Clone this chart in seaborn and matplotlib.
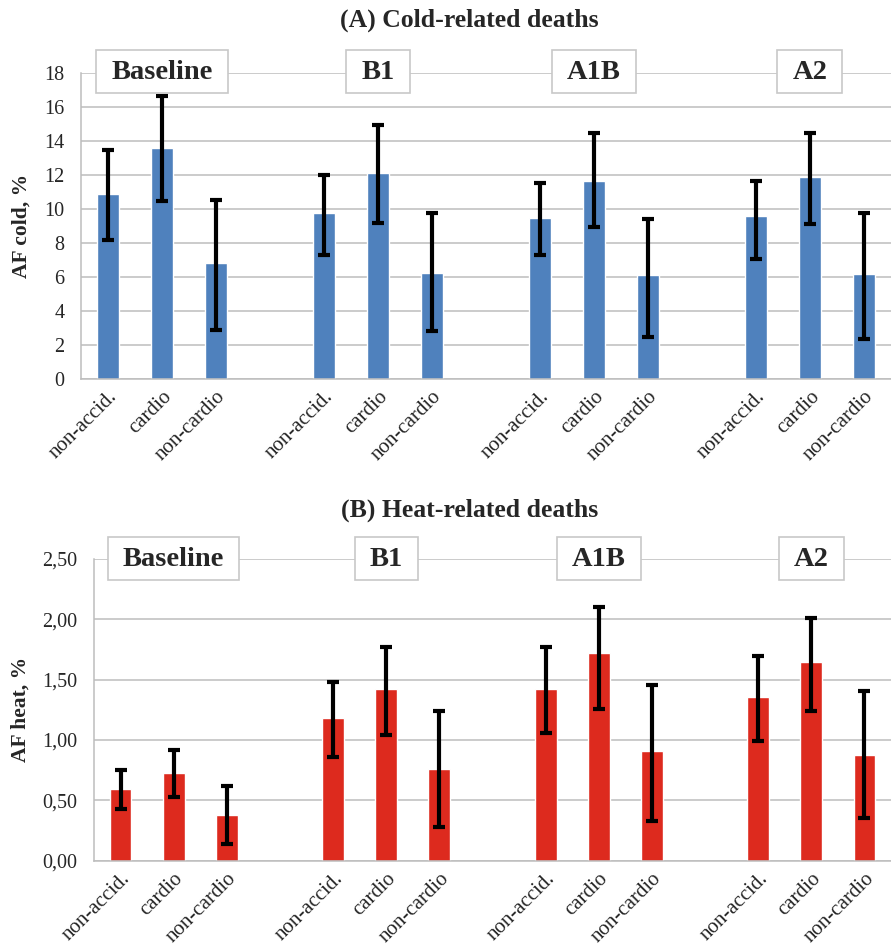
import numpy as np
import pandas as pd
import matplotlib
matplotlib.use("Agg")
import matplotlib.pyplot as plt
from matplotlib.patches import Rectangle
from matplotlib.transforms import IdentityTransform
import seaborn as sns

# Scenarios and causes of death
scenarios = ["Baseline", "B1", "A1B", "A2"]
causes = ["non-accid.", "cardio", "non-cardio"]

# Attributable fraction (%) of cold-related deaths with 95% CI
cold_af = [10.9, 13.6, 6.8,  9.75, 12.1, 6.25,  9.5, 11.65, 6.1,  9.6, 11.9, 6.15]
cold_lo = [8.2, 10.45, 2.9,  7.3, 9.15, 2.8,  7.3, 8.95, 2.45,  7.05, 9.1, 2.35]
cold_hi = [13.45, 16.65, 10.55,  12.0, 14.95, 9.75,  11.55, 14.45, 9.4,  11.65, 14.45, 9.75]

# Attributable fraction (%) of heat-related deaths with 95% CI
heat_af = [0.59, 0.73, 0.38,  1.18, 1.42, 0.76,  1.42, 1.72, 0.91,  1.36, 1.65, 0.88]
heat_lo = [0.43, 0.53, 0.14,  0.86, 1.04, 0.28,  1.06, 1.26, 0.33,  0.99, 1.24, 0.35]
heat_hi = [0.75, 0.92, 0.62,  1.48, 1.77, 1.24,  1.77, 2.10, 1.46,  1.70, 2.01, 1.41]

cold_ticks = [0, 2, 4, 6, 8, 10, 12, 14, 16, 18]
heat_ticks = [0.0, 0.5, 1.0, 1.5, 2.0, 2.5]

BLUE = "#4F81BD"
RED = "#DD2A1E"
GRID = "#BDBDBD"

sns.set_theme(style="white")
plt.rcParams["font.family"] = ["Liberation Serif", "DejaVu Serif"]

# Category order: three causes per scenario separated by an empty slot
keys, tick_labels = [], []
for i, s in enumerate(scenarios):
    for c in causes:
        keys.append(f"{s}|{c}")
        tick_labels.append(c)
    if i < len(scenarios) - 1:
        keys.append(" " * (i + 1))
        tick_labels.append("")

def make_frame(af, lo, hi):
    rows = []
    k = 0
    for s in scenarios:
        for c in causes:
            rows.append({"key": f"{s}|{c}", "scenario": s, "cause": c,
                         "af": af[k], "lo": lo[k], "hi": hi[k]})
            k += 1
    return pd.DataFrame(rows)

cold = make_frame(cold_af, cold_lo, cold_hi)
heat = make_frame(heat_af, heat_lo, heat_hi)

fig = plt.figure(figsize=(8.91, 9.48), dpi=100)
ax_top = fig.add_axes([0.0909, 0.6002, 0.9091, 0.3228])
ax_bot = fig.add_axes([0.1055, 0.0921, 0.8945, 0.3182])

scenario_texts = []

def draw_panel(ax, df, color, ticks, fmt, ylabel, label_x, title, title_y):
    sns.barplot(data=df, x="key", y="af", order=keys, color=color,
                width=0.41, errorbar=None, saturation=1, ax=ax, zorder=2)
    pos = np.array([keys.index(k) for k in df["key"]])
    yerr = np.vstack([df["af"] - df["lo"], df["hi"] - df["af"]])
    ax.errorbar(pos, df["af"], yerr=yerr, fmt="none", ecolor="black",
                elinewidth=3.0, capsize=4.5, capthick=3.0, zorder=3)
    ax.set_xlim(-0.5, len(keys) - 0.5)
    ax.set_ylim(ticks[0], ticks[-1])
    ax.set_yticks(ticks)
    ax.set_yticklabels([fmt(t) for t in ticks], fontsize=14.5)
    ax.set_xticks(range(len(keys)))
    ax.set_xticklabels(tick_labels, rotation=45, ha="right",
                       rotation_mode="anchor", fontsize=15)
    ax.tick_params(axis="x", length=0, pad=6)
    ax.tick_params(axis="y", length=5, width=1, color=GRID, pad=7, direction="out")
    ax.yaxis.grid(True, color=GRID, linewidth=1.1, zorder=0)
    ax.set_axisbelow(True)
    for side in ["top", "right"]:
        ax.spines[side].set_visible(False)
    for side in ["left", "bottom"]:
        ax.spines[side].set_color(GRID)
        ax.spines[side].set_linewidth(1.1)
    ax.set_xlabel("")
    ax.set_ylabel(ylabel, fontsize=15.5, fontweight="bold")
    ax.yaxis.set_label_coords(label_x, 0.5)
    # Scenario names over the middle bar of each group
    for s in scenarios:
        x = keys.index(f"{s}|cardio")
        t = ax.text(x, ticks[-1], s, ha="center", va="center", fontsize=20.5,
                    fontweight="bold", zorder=6, clip_on=False)
        scenario_texts.append((ax, t))
    fig.text(0.527, title_y, title, ha="center", va="center",
             fontsize=18.5, fontweight="bold")

draw_panel(ax_top, cold, BLUE, cold_ticks, lambda t: f"{t:d}",
           "AF cold, %", -0.061, "(A) Cold-related deaths", 1 - 20 / 948)
draw_panel(ax_bot, heat, RED, heat_ticks, lambda t: f"{t:.2f}".replace(".", ","),
           "AF heat, %", -0.079, "(B) Heat-related deaths", 1 - 510 / 948)

# White frames around the scenario names, sized from the rendered text
fig.canvas.draw()
renderer = fig.canvas.get_renderer()
for ax, t in scenario_texts:
    bb = t.get_window_extent(renderer)
    w = bb.width + 30
    h = 43
    cx = (bb.x0 + bb.x1) / 2
    cy = (bb.y0 + bb.y1) / 2 + 1
    ax.add_patch(Rectangle((cx - w / 2, cy - h / 2), w, h,
                           transform=IdentityTransform(), facecolor="white",
                           edgecolor="#C8C8C8", linewidth=1.2, zorder=5,
                           clip_on=False))

fig.savefig("out.png", dpi=100, facecolor="white")
